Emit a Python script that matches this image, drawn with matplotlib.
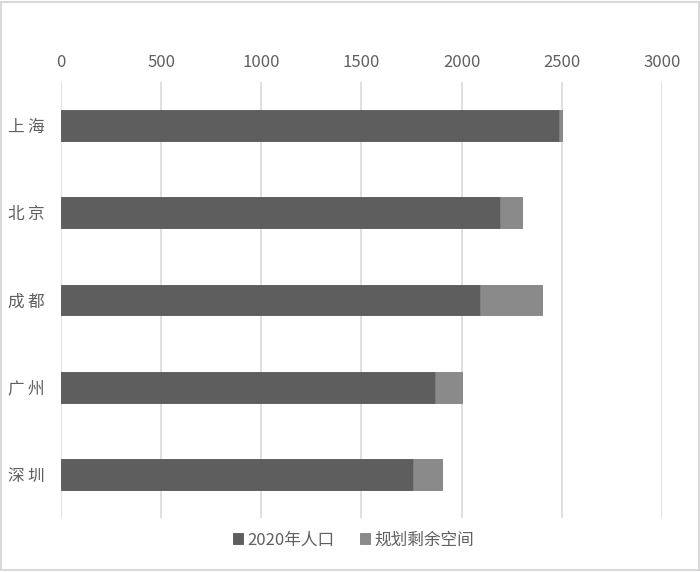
import matplotlib
matplotlib.use("Agg")
import matplotlib.pyplot as plt
from matplotlib.patches import Rectangle

plt.rcParams['font.family'] = ['Noto Sans CJK SC', 'DejaVu Sans']

cities = ['上海', '北京', '成都', '广州', '深圳']
pop_2020 = [2487, 2189, 2094, 1868, 1756]
remaining = [13, 111, 306, 132, 144]
xticks = [0, 500, 1000, 1500, 2000, 2500, 3000]
legend_labels = ['2020年人口', '规划剩余空间']

dark = '#5e5e5e'
light = '#8a8a8a'
txt = '#606060'

fig = plt.figure(figsize=(7.0, 5.72), dpi=100)
ax = fig.add_axes([0.0871, 0.0944, 0.8586, 0.7622])

y = list(range(len(cities)))
h = 0.355
b1 = ax.barh(y, pop_2020, height=h, color=dark, edgecolor='#555555', linewidth=0.6,
             label=legend_labels[0], zorder=3)
b2 = ax.barh(y, remaining, left=pop_2020, height=h, color=light, edgecolor='#808080',
             linewidth=0.6, label=legend_labels[1], zorder=3)

ax.set_xlim(0, 3000)
ax.set_ylim(len(cities) - 0.5, -0.5)
ax.set_xticks(xticks)
ax.set_xticklabels([str(t) for t in xticks], fontweight='light')
ax.xaxis.tick_top()
ax.set_yticks(y)
ax.set_yticklabels(['\u2009'.join(c) for c in cities], fontweight='light')
ax.tick_params(axis='x', length=0, pad=8, labelsize=12, colors=txt, labelcolor=txt)
ax.tick_params(axis='y', length=0, pad=12, labelsize=12, labelcolor=txt)
for s in ax.spines.values():
    s.set_visible(False)
ax.grid(axis='x', color='#d9d9d9', linewidth=1.2, zorder=0)
ax.set_axisbelow(True)

leg = fig.legend(handles=[b1, b2], labels=legend_labels, loc='center',
                 bbox_to_anchor=(0.505, 0.056), ncol=2, frameon=False,
                 prop={'size': 12, 'weight': 'light'},
                 handlelength=0.6, handleheight=0.6,
                 handletextpad=0.3, columnspacing=1.5, labelcolor=txt)

fig.patches.append(Rectangle((0.002, 0.003), 0.996, 0.994, transform=fig.transFigure,
                             fill=False, edgecolor='#d9d9d9', linewidth=1.5))

fig.savefig('out.png', dpi=100, facecolor='white')
